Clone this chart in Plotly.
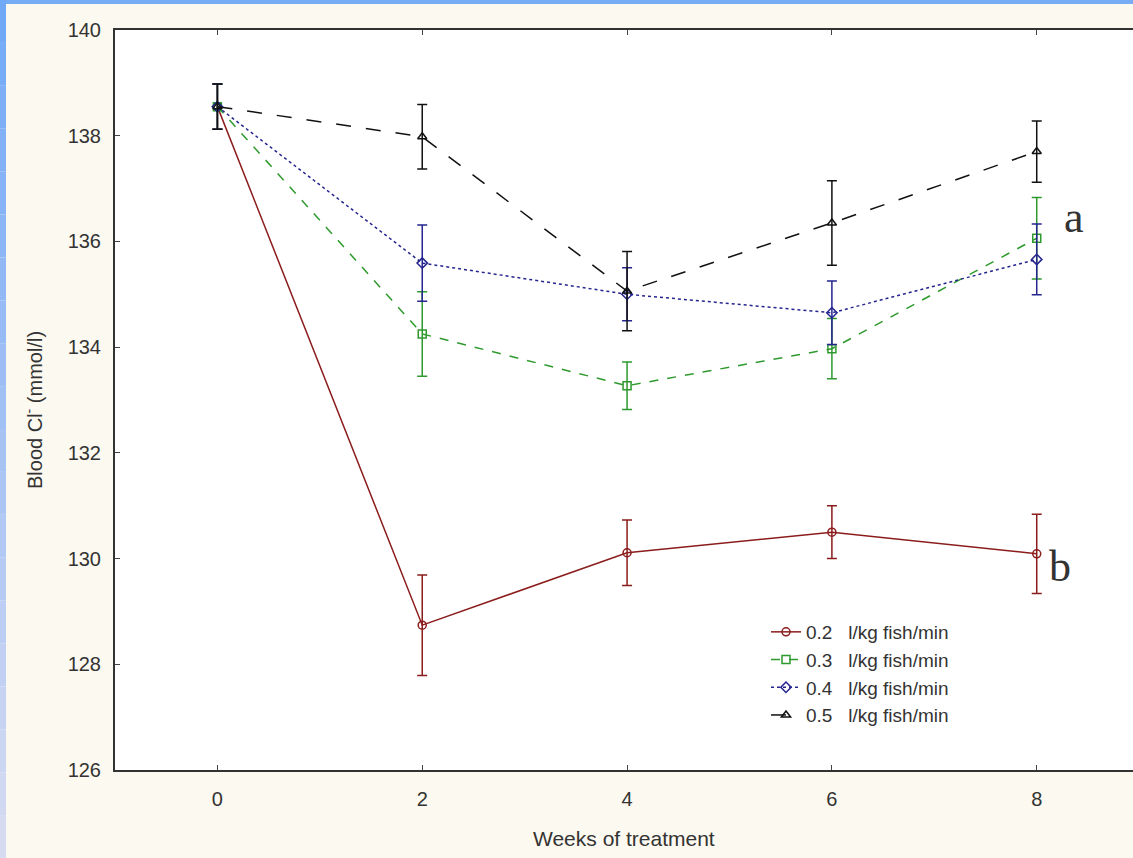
import plotly.graph_objects as go

weeks = [0, 2, 4, 6, 8]
series_names = ["0.2\u00a0\u00a0 l/kg fish/min", "0.3\u00a0\u00a0 l/kg fish/min",
                "0.4\u00a0\u00a0 l/kg fish/min", "0.5\u00a0\u00a0 l/kg fish/min"]
vals_02 = [138.55, 128.74, 130.11, 130.50, 130.09]
err_02 = [0.43, 0.95, 0.62, 0.50, 0.75]
vals_03 = [138.55, 134.25, 133.27, 133.97, 136.06]
err_03 = [0.43, 0.80, 0.45, 0.57, 0.77]
vals_04 = [138.55, 135.59, 135.00, 134.65, 135.66]
err_04 = [0.43, 0.72, 0.50, 0.60, 0.67]
vals_05 = [138.55, 137.98, 135.06, 136.35, 137.70]
err_05 = [0.43, 0.61, 0.75, 0.80, 0.58]

colors = ["#8b1c1c", "#2e9a2e", "#25258f", "#111111"]
dashes = ["solid", "dash", "dot", "longdash"]
symbols = ["circle-open", "square-open", "diamond-open", "triangle-up-open"]
all_vals = [vals_02, vals_03, vals_04, vals_05]
all_errs = [err_02, err_03, err_04, err_05]

W, H = 1133, 858
ML, MT, MR, MB = 115, 30, 0, 88
pw = W - ML - MR
ph = H - MT - MB

fig = go.Figure()
for i in range(4):
    fig.add_trace(go.Scatter(
        x=weeks, y=all_vals[i], name=series_names[i], mode="lines+markers",
        line=dict(color=colors[i], width=1.5, dash=dashes[i]),
        marker=dict(symbol=symbols[i], size=8, color=colors[i], line=dict(width=1.5, color=colors[i])),
        error_y=dict(type="data", array=all_errs[i], visible=True, color=colors[i], thickness=1.5, width=5),
    ))


def px_x(p):
    return (p - ML) / pw


def px_y(p):
    return (H - MB - p) / ph


def mix(c1, c2, t):
    a = [int(c1[k:k + 2], 16) for k in (1, 3, 5)]
    b = [int(c2[k:k + 2], 16) for k in (1, 3, 5)]
    return "#%02x%02x%02x" % tuple(round(a[j] + (b[j] - a[j]) * t) for j in range(3))


shapes = [
    dict(type="rect", xref="paper", yref="paper", x0=px_x(0), x1=px_x(W), y0=px_y(4), y1=px_y(0),
         fillcolor="#77acf7", line=dict(width=0), layer="below"),
]
nseg = 20
for k in range(nseg):
    y0p = k * H / nseg
    y1p = (k + 1) * H / nseg
    shapes.append(dict(type="rect", xref="paper", yref="paper", x0=px_x(0), x1=px_x(6),
                       y0=px_y(y1p), y1=px_y(y0p),
                       fillcolor=mix("#72a9f7", "#d6dbf2", k / (nseg - 1)),
                       line=dict(width=0), layer="below"))

annotations = [
    dict(text="Weeks of treatment", xref="paper", yref="paper", x=0.5, y=px_y(838),
         showarrow=False, font=dict(family="Arial, Liberation Sans", size=21, color="#333333"),
         xanchor="center", yanchor="middle"),
    dict(text="Blood Cl<sup>-</sup> (mmol/l)", xref="paper", yref="paper", x=px_x(33), y=px_y(410),
         showarrow=False, textangle=-90, font=dict(family="Arial, Liberation Sans", size=20, color="#333333"),
         xanchor="center", yanchor="middle"),
    dict(text="a", xref="paper", yref="paper", x=px_x(1074), y=px_y(218),
         showarrow=False, font=dict(family="Liberation Serif, DejaVu Serif", size=44, color="#333333"),
         xanchor="center", yanchor="middle"),
    dict(text="b", xref="paper", yref="paper", x=px_x(1060), y=px_y(566),
         showarrow=False, font=dict(family="Liberation Serif, DejaVu Serif", size=44, color="#333333"),
         xanchor="center", yanchor="middle"),
]

fig.update_layout(
    width=W, height=H,
    margin=dict(l=ML, r=MR, t=MT, b=MB),
    paper_bgcolor="#fcf9f0", plot_bgcolor="#ffffff",
    shapes=shapes, annotations=annotations,
    showlegend=True,
    legend=dict(x=px_x(766), y=px_y(613), xanchor="left", yanchor="top",
                bgcolor="rgba(0,0,0,0)",
                font=dict(family="Arial, Liberation Sans", size=19, color="#333333"),
                itemwidth=30),
    font=dict(family="Arial, Liberation Sans", color="#333333"),
)
fig.update_xaxes(range=[-1.0, 8.94], tickvals=[0, 2, 4, 6, 8], ticks="inside", ticklen=5,
                 showline=True, linecolor="#333333", linewidth=2, mirror="ticks",
                 showgrid=False, zeroline=False, ticklabelstandoff=10,
                 tickfont=dict(family="Arial, Liberation Sans", size=20, color="#333333"))
fig.update_yaxes(range=[126, 140], tickvals=list(range(126, 141, 2)), ticks="inside", ticklen=5,
                 showline=True, linecolor="#333333", linewidth=2,
                 showgrid=False, zeroline=False, ticklabelstandoff=8,
                 tickfont=dict(family="Arial, Liberation Sans", size=20, color="#333333"))

fig.write_html("out.html", config={"displayModeBar": False},
               post_script="document.body.style.margin='0';")
